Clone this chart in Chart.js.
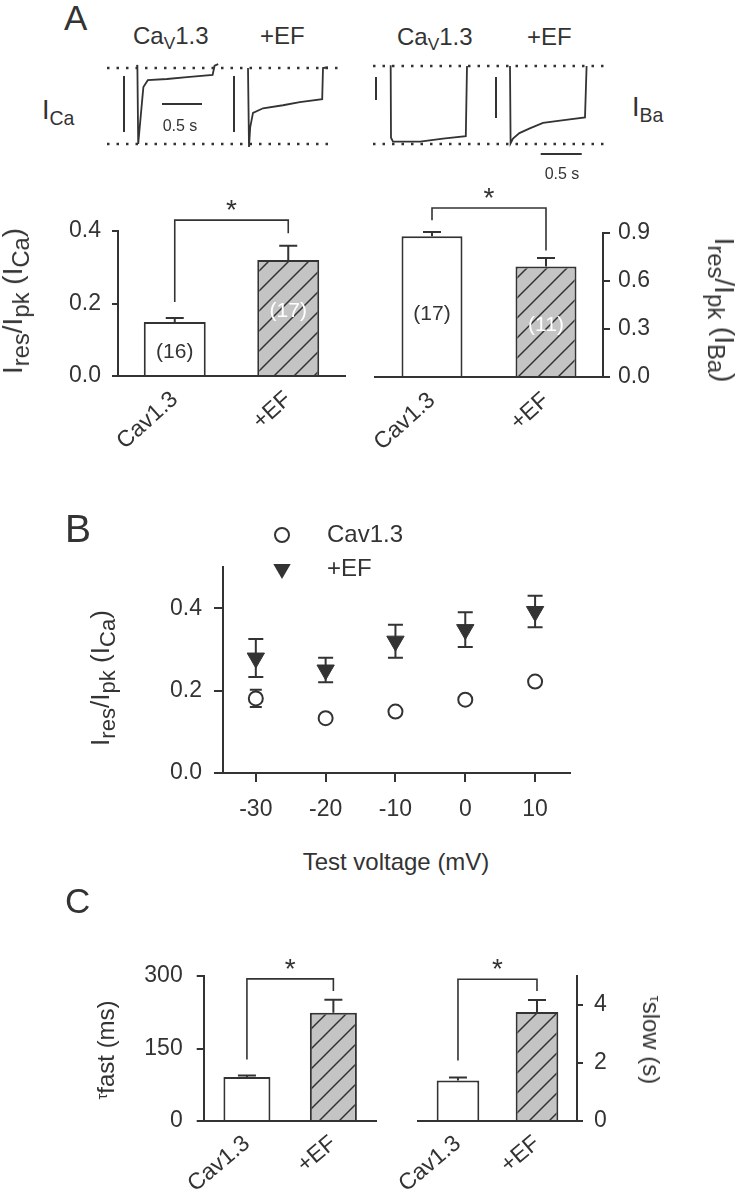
<!DOCTYPE html>
<html>
<head>
<meta charset="utf-8">
<title>Cav1.3 inactivation</title>
<script src="https://cdn.jsdelivr.net/npm/chart.js@4.4.1/dist/chart.umd.min.js"></script>
<style>
  body { margin: 0; background: #fff; }
  #fig { position: relative; width: 739px; height: 1199px; overflow: hidden;
         font-family: "Liberation Sans", Arial, sans-serif; color: #333; }
  #fig canvas { position: absolute; }
  .t { position: absolute; white-space: nowrap; line-height: 1; }
  .c { transform: translateX(-50%); }
  .sb { font-size: 0.72em; position: relative; top: 0.32em; }
  .sb2 { font-size: 0.85em; position: relative; top: 0.28em; }
  .up { transform: translate(-50%, -50%) rotate(-90deg); }
  .down { transform: translate(-50%, -50%) rotate(90deg); }
  .tau { font-size: 0.62em; position: relative; top: -0.5em; }
</style>
</head>
<body>
<div id="fig">
  <!-- panel A traces -->
  <canvas id="traceCa" width="233" height="100" style="left:107px;top:60px"></canvas>
  <canvas id="traceBa" width="237" height="100" style="left:373px;top:58px"></canvas>
  <!-- panel A bars -->
  <canvas id="barCa" width="365" height="290" style="left:0px;top:170px"></canvas>
  <canvas id="barBa" width="374" height="290" style="left:365px;top:170px"></canvas>
  <!-- panel B -->
  <canvas id="voltB" width="739" height="340" style="left:0px;top:500px"></canvas>
  <!-- panel C -->
  <canvas id="tauF" width="290" height="259" style="left:100px;top:940px"></canvas>
  <canvas id="tauS" width="349" height="259" style="left:390px;top:940px"></canvas>

  <div class="t" style="left:64px;top:0px;font-size:35px">A</div>
  <div class="t" style="left:133px;top:23.7px;font-size:24px">Ca<span class="sb">V</span>1.3</div>
  <div class="t" style="left:260px;top:23.7px;font-size:24px">+EF</div>
  <div class="t" style="left:397px;top:24.7px;font-size:24px">Ca<span class="sb">V</span>1.3</div>
  <div class="t" style="left:527px;top:24.7px;font-size:24px">+EF</div>
  <div class="t" style="left:42px;top:97px;font-size:27px">I<span class="sb">Ca</span></div>
  <div class="t" style="left:632px;top:94px;font-size:27px">I<span class="sb">Ba</span></div>
  <div class="t c" style="left:180px;top:117.5px;font-size:16px">0.5 s</div>
  <div class="t c" style="left:562px;top:165.5px;font-size:16px">0.5 s</div>

  <div class="t up" style="left:13px;top:301px;font-size:28px">I<span class="sb2">res</span>/I<span class="sb2">pk</span> (I<span class="sb2">Ca</span>)</div>
  <div class="t down" style="left:724px;top:310px;font-size:28px">I<span class="sb2">res</span>/I<span class="sb2">pk</span> (I<span class="sb2">Ba</span>)</div>

  <div class="t" style="left:65px;top:509px;font-size:39px">B</div>
  <div class="t up" style="left:100px;top:678px;font-size:26px">I<span class="sb2">res</span>/I<span class="sb2">pk</span> (I<span class="sb2">Ca</span>)</div>
  <div class="t c" style="left:396px;top:849.7px;font-size:24px">Test voltage (mV)</div>

  <div class="t" style="left:65px;top:883.4px;font-size:35px">C</div>
  <div class="t up" style="left:106px;top:1050px;font-size:24px"><span class="tau">τ</span>fast (ms)</div>
  <div class="t down" style="left:651px;top:1040px;font-size:24px"><span class="tau">τ</span>slow (s)</div>
</div>

<script>
// ---------------- data ----------------
const groups = ['Cav1.3', '+EF'];

// A: residual / peak current at end of the pulse
const caRatio = [0.149, 0.32];
const caRatioErr = [0.011, 0.039];
const caN = ['(16)', '(17)'];
const caNAt = [0.066, 0.18];
const baRatio = [0.88, 0.69];
const baRatioErr = [0.026, 0.054];
const baN = ['(17)', '(11)'];
const baNAt = [0.39, 0.325];

// B: Ires/Ipk vs test voltage
const testVoltage = [-30, -20, -10, 0, 10];
const cavPts = [0.181, 0.133, 0.149, 0.178, 0.222];
const cavPtsErr = [0.021, 0.006, 0.006, 0.006, 0.008];
const efPts = [0.279, 0.25, 0.32, 0.348, 0.392];
const efPtsErr = [0.046, 0.03, 0.04, 0.042, 0.038];

// C: inactivation time constants
const tauFast = [91, 224];
const tauFastErr = [3, 27];
const tauSlow = [1.4, 3.76];
const tauSlowErr = [0.1, 0.41];

// tick labels
const ticksCa = [0, 0.2, 0.4];
const ticksBa = [0, 0.3, 0.6, 0.9];
const ticksB = [0, 0.2, 0.4];
const ticksVolt = [-30, -20, -10, 0, 10];
const ticksFast = [0, 150, 300];
const ticksSlow = [0, 2, 4];

// A: example current traces (sweep time in s, current normalised to peak)
const trace1T = [0.375, 0.38, 0.39, 0.44, 0.455, 0.51, 0.75, 1.0, 1.32, 1.345, 1.39];
const trace1V = [0.04, 0.0, -1.0, -0.42, -0.25, -0.16, -0.145, -0.12, -0.09, 0.03, 0.05];
const trace2T = [1.7625, 1.775, 1.79, 1.825, 1.95, 2.2, 2.41, 2.69, 2.70, 2.76];
const trace2V = [0.0, -1.04, -0.78, -0.59, -0.53, -0.49, -0.45, -0.41, 0.0, 0.01];
const trace3T = [0.221, 0.225, 0.25, 0.59, 0.875, 1.16, 1.175];
const trace3V = [0.01, -0.92, -0.97, -0.97, -0.93, -0.9, 0.0];
const trace4T = [1.7125, 1.72, 1.75, 1.83, 1.96, 2.125, 2.41, 2.65, 2.67];
const trace4V = [0.0, -0.99, -0.93, -0.86, -0.8, -0.73, -0.69, -0.66, 0.0];
// scale bars and the zero / peak reference levels
const caAmpBarT = [0.2125, 1.5875];
const caAmpBarV = [-0.105, -0.842];
const baAmpBarT = [0.0375, 1.5375];
const baAmpBarV1 = [-0.141, -0.436];
const baAmpBarV2 = [-0.141, -0.667];
const caTimeBarT = [0.6875, 1.1875];
const caTimeBarV = -0.474;
const baTimeBarT = [2.096, 2.609];
const baTimeBarV = -1.128;
const caSweepEnd = [2.9125, 2.8125];
const baSweepEnd = [2.925, 2.925];

// ---------------- helpers ----------------
const ink = '#333';
const fontFam = '"Liberation Sans", Arial, sans-serif';
Chart.defaults.font.family = fontFam;
Chart.defaults.color = ink;

const pts = (xs, ys) => xs.map((x, i) => ({ x: x, y: ys[i] }));

function makeHatch() {
  const s = 20;
  const c = document.createElement('canvas');
  c.width = s; c.height = s;
  const g = c.getContext('2d');
  g.fillStyle = '#c4c4c4';
  g.fillRect(0, 0, s, s);
  g.strokeStyle = ink;
  g.lineWidth = 1.5;
  g.beginPath();
  g.moveTo(-2, s + 2); g.lineTo(s + 2, -2);
  g.moveTo(-2, 2); g.lineTo(2, -2);
  g.moveTo(s - 2, s + 2); g.lineTo(s + 2, s - 2);
  g.stroke();
  return g.createPattern(c, 'repeat');
}
const hatch = makeHatch();

const errorBars = {
  id: 'errorBars',
  beforeDatasetsDraw(chart, args, opts) {
    const ctx = chart.ctx;
    ctx.save();
    ctx.strokeStyle = ink;
    ctx.lineWidth = 2;
    chart.data.datasets.forEach((ds, di) => {
      if (!ds.errors) return;
      const meta = chart.getDatasetMeta(di);
      const ys = chart.scales[meta.yAxisID];
      const cap = ds.cap || opts.cap || 8;
      meta.data.forEach((el, i) => {
        const raw = ds.data[i];
        const v = typeof raw === 'object' ? raw.y : raw;
        const hi = ys.getPixelForValue(v + ds.errors[i]);
        const lo = ds.twoSided ? ys.getPixelForValue(v - ds.errors[i]) : el.y;
        ctx.beginPath();
        ctx.moveTo(el.x, lo); ctx.lineTo(el.x, hi);
        ctx.moveTo(el.x - cap, hi); ctx.lineTo(el.x + cap, hi);
        if (ds.twoSided) { ctx.moveTo(el.x - cap, lo); ctx.lineTo(el.x + cap, lo); }
        ctx.stroke();
      });
    });
    ctx.restore();
  }
};

const sigBracket = {
  id: 'sigBracket',
  afterDraw(chart, args, o) {
    if (!o || o.top == null) return;
    const meta = chart.getDatasetMeta(0);
    const ys = chart.scales.y;
    const ctx = chart.ctx;
    const x1 = meta.data[0].x, x2 = meta.data[1].x;
    const yt = ys.getPixelForValue(o.top);
    ctx.save();
    ctx.strokeStyle = ink;
    ctx.lineWidth = 1.6;
    ctx.beginPath();
    ctx.moveTo(x1, ys.getPixelForValue(o.legs[0]));
    ctx.lineTo(x1, yt);
    ctx.lineTo(x2, yt);
    ctx.lineTo(x2, ys.getPixelForValue(o.legs[1]));
    ctx.stroke();
    ctx.fillStyle = ink;
    ctx.textAlign = 'center';
    ctx.textBaseline = 'alphabetic';
    ctx.font = '28px ' + fontFam;
    ctx.fillText('*', (x1 + x2) / 2, yt - 17 + 0.57 * 28);
    ctx.restore();
  }
};

const nLabels = {
  id: 'nLabels',
  afterDatasetsDraw(chart, args, o) {
    if (!o || !o.texts) return;
    const meta = chart.getDatasetMeta(0);
    const ys = chart.scales.y;
    const ctx = chart.ctx;
    ctx.save();
    ctx.font = '21px ' + fontFam;
    ctx.textAlign = 'center';
    ctx.textBaseline = 'middle';
    o.texts.forEach((txt, i) => {
      ctx.fillStyle = i === 0 ? ink : '#ffffff';
      ctx.fillText(txt, meta.data[i].x, ys.getPixelForValue(o.at[i]));
    });
    ctx.restore();
  }
};

// ---------------- panel A traces ----------------
function traceChart(id, xMax, yMin, yMax, lines) {
  return new Chart(document.getElementById(id), {
    type: 'scatter',
    data: {
      datasets: lines.map(l => ({
        data: l.data,
        showLine: true,
        pointRadius: 0,
        borderColor: ink,
        borderWidth: l.width || 1.8,
        borderDash: l.dash || [],
        tension: 0
      }))
    },
    options: {
      responsive: false, animation: false, events: [],
      layout: { padding: 0 },
      plugins: { legend: { display: false }, tooltip: { enabled: false } },
      scales: {
        x: { type: 'linear', display: false, min: 0, max: xMax },
        y: { type: 'linear', display: false, min: yMin, max: yMax }
      }
    }
  });
}

const dots = [2.5, 7];
traceChart('traceCa', 2.9125, -92 / 76, 8 / 76, [
  { data: [{ x: 0, y: 0 }, { x: caSweepEnd[0], y: 0 }], dash: dots, width: 2.5 },
  { data: [{ x: 0, y: -1 }, { x: caSweepEnd[1], y: -1 }], dash: dots, width: 2.5 },
  { data: pts(trace1T, trace1V) },
  { data: pts(trace2T, trace2V) },
  { data: pts([caAmpBarT[0], caAmpBarT[0]], caAmpBarV), width: 2 },
  { data: pts([caAmpBarT[1], caAmpBarT[1]], caAmpBarV), width: 2 },
  { data: pts(caTimeBarT, [caTimeBarV, caTimeBarV]), width: 2 }
]);
traceChart('traceBa', 2.9625, -92 / 78, 8 / 78, [
  { data: [{ x: 0, y: 0 }, { x: baSweepEnd[0], y: 0 }], dash: dots, width: 2.5 },
  { data: [{ x: 0, y: -1 }, { x: baSweepEnd[1], y: -1 }], dash: dots, width: 2.5 },
  { data: pts(trace3T, trace3V) },
  { data: pts(trace4T, trace4V) },
  { data: pts([baAmpBarT[0], baAmpBarT[0]], baAmpBarV1), width: 2 },
  { data: pts([baAmpBarT[1], baAmpBarT[1]], baAmpBarV2), width: 2 },
  { data: pts(baTimeBarT, [baTimeBarV, baTimeBarV]), width: 2 }
]);

// ---------------- bar charts (A and C) ----------------
function barChart(id, o) {
  return new Chart(document.getElementById(id), {
    type: 'bar',
    data: {
      labels: groups,
      datasets: [{
        data: o.values,
        errors: o.errors,
        backgroundColor: ['#ffffff', hatch],
        borderColor: ink,
        borderWidth: 2,
        borderSkipped: 'bottom',
        barPercentage: o.barPct,
        categoryPercentage: 1
      }]
    },
    options: {
      responsive: false, animation: false, events: [],
      layout: { autoPadding: false, padding: o.pad },
      plugins: {
        legend: { display: false },
        tooltip: { enabled: false },
        errorBars: { cap: o.cap },
        sigBracket: o.bracket,
        nLabels: o.labels || {}
      },
      scales: {
        x: {
          z: 1,
          grid: { display: false, drawTicks: false },
          border: { color: ink, width: 2 },
          ticks: { font: { size: o.font }, minRotation: o.rot, maxRotation: o.rot, padding: o.xPad, color: ink },
          afterFit: s => { s.height = o.xHeight; }
        },
        y: {
          position: o.side,
          min: 0,
          max: o.max,
          afterBuildTicks: s => { s.ticks = o.ticks.map(v => ({ value: v })); },
          ticks: { font: { size: o.font }, padding: o.tickPad, color: ink, callback: o.fmt },
          grid: { drawOnChartArea: false, tickLength: o.tickLen, color: ink, lineWidth: 2 },
          border: { color: ink, width: 2 },
          afterFit: s => { s.width = o.yWidth; }
        }
      }
    },
    plugins: [errorBars, sigBracket, nLabels]
  });
}

const oneDec = v => v.toFixed(1);

barChart('barCa', {
  values: caRatio, errors: caRatioErr, ticks: ticksCa, max: 0.4, fmt: oneDec,
  side: 'left', yWidth: 118, xHeight: 84, pad: { left: 0, right: 20, top: 61, bottom: 0 },
  barPct: 0.546, cap: 9, font: 23, rot: 42, xPad: 10, tickLen: 6, tickPad: 11,
  bracket: { top: 0.43, legs: [0.204, 0.394] },
  labels: { texts: caN, at: caNAt }
});
barChart('barBa', {
  values: baRatio, errors: baRatioErr, ticks: ticksBa, max: 0.9, fmt: oneDec,
  side: 'right', yWidth: 136, xHeight: 83, pad: { left: 10, right: 0, top: 63, bottom: 0 },
  barPct: 0.535, cap: 9, font: 23, rot: 42, xPad: 10, tickLen: 7, tickPad: 8,
  bracket: { top: 1.056, legs: [0.98, 0.79] },
  labels: { texts: baN, at: baNAt }
});
barChart('tauF', {
  values: tauFast, errors: tauFastErr, ticks: ticksFast, max: 300,
  side: 'left', yWidth: 103.7, xHeight: 78, pad: { left: 0, right: 13.4, top: 36, bottom: 0 },
  barPct: 0.544, cap: 9, font: 23, rot: 40, xPad: 9, tickLen: 7, tickPad: 14,
  bracket: { top: 294, legs: [127, 269] }
});
barChart('tauS', {
  values: tauSlow, errors: tauSlowErr, ticks: ticksSlow, max: 5,
  side: 'right', yWidth: 162.5, xHeight: 78, pad: { left: 12.6, right: 0, top: 36, bottom: 0 },
  barPct: 0.54, cap: 9, font: 23, rot: 40, xPad: 9, tickLen: 6.5, tickPad: 11,
  bracket: { top: 4.89, legs: [2.09, 4.48] }
});

// ---------------- panel B ----------------
const pointLegend = {
  id: 'pointLegend',
  afterDraw(chart, args, o) {
    const ctx = chart.ctx, a = chart.chartArea;
    const x = a.left + o.dx, tx = a.left + o.textDx;
    const rows = [a.top + o.rows[0], a.top + o.rows[1]];
    ctx.save();
    ctx.lineWidth = 2;
    ctx.strokeStyle = ink;
    ctx.fillStyle = '#fff';
    ctx.beginPath();
    ctx.arc(x, rows[0], 7, 0, Math.PI * 2);
    ctx.fill(); ctx.stroke();
    ctx.fillStyle = ink;
    ctx.beginPath();
    ctx.moveTo(x - 8.7, rows[1] - 5); ctx.lineTo(x + 8.7, rows[1] - 5); ctx.lineTo(x, rows[1] + 10);
    ctx.closePath(); ctx.fill();
    ctx.font = '24px ' + fontFam;
    ctx.textAlign = 'left';
    ctx.textBaseline = 'middle';
    chart.data.datasets.forEach((ds, i) => ctx.fillText(ds.label, tx, rows[i]));
    ctx.restore();
  }
};

new Chart(document.getElementById('voltB'), {
  type: 'scatter',
  data: {
    datasets: [
      { label: 'Cav1.3', data: pts(testVoltage, cavPts), errors: cavPtsErr, twoSided: true, cap: 6,
        pointStyle: 'circle', pointRadius: 7, pointBorderWidth: 2,
        pointBorderColor: ink, pointBackgroundColor: '#fff' },
      { label: '+EF', data: pts(testVoltage, efPts), errors: efPtsErr, twoSided: true, cap: 7.5,
        pointStyle: 'triangle', pointRotation: 180, pointRadius: 10, pointBorderWidth: 1,
        pointBorderColor: ink, pointBackgroundColor: ink }
    ]
  },
  options: {
    responsive: false, animation: false, events: [],
    layout: { autoPadding: false, padding: { left: 0, right: 169, top: 67, bottom: 0 } },
    plugins: {
      legend: { display: false },
      tooltip: { enabled: false },
      pointLegend: { dx: 59, textDx: 104, rows: [-32, 2] }
    },
    scales: {
      x: {
        type: 'linear', min: -34.7, max: 15,
        afterBuildTicks: s => { s.ticks = ticksVolt.map(v => ({ value: v })); },
        ticks: { font: { size: 23 }, padding: 14, color: ink },
        grid: { drawOnChartArea: false, tickLength: 9, color: ink, lineWidth: 2 },
        border: { color: ink, width: 2 },
        afterFit: s => { s.height = 67; }
      },
      y: {
        min: 0, max: 0.5,
        afterBuildTicks: s => { s.ticks = ticksB.map(v => ({ value: v })); },
        ticks: { font: { size: 23 }, padding: 12, color: ink, callback: oneDec },
        grid: { drawOnChartArea: false, tickLength: 9, color: ink, lineWidth: 2 },
        border: { color: ink, width: 2 },
        afterFit: s => { s.width = 223; }
      }
    }
  },
  plugins: [errorBars, pointLegend]
});
</script>
</body>
</html>
